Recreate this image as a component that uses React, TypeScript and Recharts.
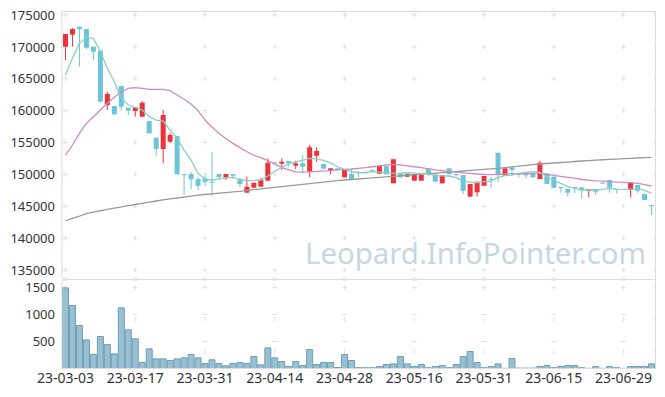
import React from "react";
import {
  ComposedChart,
  Bar,
  Line,
  XAxis,
  YAxis,
  CartesianGrid,
} from "recharts";

// trading days, 23-03-03 .. 23-07-05
const dates = [
  "23-03-03", "23-03-06", "23-03-07", "23-03-08", "23-03-09", "23-03-10", "23-03-13", "23-03-14", "23-03-15", "23-03-16",
  "23-03-17", "23-03-20", "23-03-21", "23-03-22", "23-03-23", "23-03-24", "23-03-27", "23-03-28", "23-03-29", "23-03-30",
  "23-03-31", "23-04-03", "23-04-04", "23-04-05", "23-04-06", "23-04-07", "23-04-10", "23-04-11", "23-04-12", "23-04-13",
  "23-04-14", "23-04-17", "23-04-18", "23-04-19", "23-04-20", "23-04-21", "23-04-24", "23-04-25", "23-04-26", "23-04-27",
  "23-04-28", "23-05-02", "23-05-03", "23-05-04", "23-05-08", "23-05-09", "23-05-10", "23-05-11", "23-05-12", "23-05-15",
  "23-05-16", "23-05-17", "23-05-18", "23-05-19", "23-05-22", "23-05-23", "23-05-24", "23-05-25", "23-05-26", "23-05-30",
  "23-05-31", "23-06-01", "23-06-02", "23-06-05", "23-06-07", "23-06-08", "23-06-09", "23-06-12", "23-06-13", "23-06-14",
  "23-06-15", "23-06-16", "23-06-19", "23-06-20", "23-06-21", "23-06-22", "23-06-23", "23-06-26", "23-06-27", "23-06-28",
  "23-06-29", "23-06-30", "23-07-03", "23-07-04", "23-07-05",
];

const opens = [
  170030, 171910, 173160, 172800, 170030, 169400, 160880, 160730, 163860, 160460,
  159940, 159050, 158370, 155750, 153980, 155130, 156020, 150050, 150060, 149270,
  149390, 148860, 150060, 149480, 150060, 149120, 147130, 147910, 148070, 149010,
  151900, 151680, 152100, 151370, 151740, 150420, 152930, 151630, 150580, 150950,
  149540, 150060, 150420, 150330, 150700, 150110, 151320, 148600, 150170, 149640,
  149010, 149010, 150950, 150010, 148600, 150950, 150060, 149900, 146500, 147190,
  148220, 149270, 153400, 149790, 151110, 150170, 150010, 150060, 149270, 150170,
  149640, 148020, 147700, 148020, 147970, 147390, 147650, 148700, 149120, 147710,
  147710, 147550, 148330, 146920, 145200,
];
const highs = [
  172020, 172960, 173160, 172800, 170030, 169400, 162970, 160730, 163860, 160460,
  160520, 161510, 158370, 155750, 160100, 156530, 156020, 150050, 150370, 149640,
  149760, 153510, 150060, 150060, 150060, 149430, 149640, 148700, 149430, 152520,
  151900, 152520, 152100, 152150, 153040, 154610, 154250, 151630, 150950, 150950,
  150840, 150800, 150420, 150330, 150700, 151480, 151320, 152450, 150170, 150060,
  150060, 149950, 150950, 150010, 149900, 150950, 150060, 149900, 148490, 148860,
  149750, 149640, 153400, 150950, 151110, 150170, 150010, 150060, 152100, 150170,
  149640, 148020, 147700, 148020, 147970, 147710, 147650, 148700, 149120, 147710,
  147710, 148700, 148330, 146920, 145200,
];
const lows = [
  167940, 170030, 166890, 169650, 167940, 161400, 160100, 159400, 159990, 159310,
  159050, 159050, 156440, 152930, 151740, 154920, 150010, 146770, 147710, 147550,
  148180, 146610, 149120, 149120, 149320, 148020, 147130, 147910, 148070, 149010,
  151740, 150680, 151210, 150790, 150170, 149540, 151990, 150890, 150060, 150690,
  149540, 149280, 149540, 150310, 150690, 150110, 150010, 148600, 149540, 149640,
  149010, 149010, 149640, 148860, 148600, 150010, 149700, 146920, 146500, 146500,
  148220, 147810, 148860, 149790, 150170, 149540, 149380, 149540, 149270, 148490,
  147910, 147130, 146500, 147030, 146250, 146400, 146770, 148540, 147130, 147030,
  147550, 146400, 147130, 145980, 143630,
];
const closes = [
  172020, 172800, 172760, 169870, 169240, 161400, 162610, 159420, 160620, 159990,
  160520, 161240, 156440, 153980, 159310, 156180, 150010, 149900, 149230, 148220,
  148800, 148700, 149590, 150060, 149800, 148490, 148070, 148700, 149120, 151830,
  151800, 151990, 151740, 151740, 151210, 154250, 153670, 150890, 150950, 150690,
  150840, 149280, 150260, 150310, 150690, 151320, 150010, 152370, 149540, 150060,
  150060, 149950, 150170, 148860, 149900, 150010, 149900, 147440, 148490, 148860,
  149750, 149120, 149900, 150950, 150690, 150010, 149850, 149540, 151830, 148490,
  147910, 147860, 147130, 147860, 147550, 147710, 147280, 148540, 147910, 147550,
  147550, 148700, 147440, 145980, 145040,
];

const ma5 = [
  165590, 168210, 170560, 171500, 171340, 169240, 166640, 164540, 161930, 160880,
  160520, 160100, 159050, 158530, 158370, 156960, 155650, 153820, 152250, 150170,
  149230, 149120, 149300, 149450, 149540, 149200, 149010, 149050, 149120, 149750,
  150500, 151100, 151700, 151950, 152200, 152500, 152450, 152200, 151800, 151200,
  150800, 150450, 150260, 150300, 150420, 150350, 150250, 150170, 150200, 150260,
  150200, 150170, 150050, 149800, 149780, 149750, 149500, 148960, 148800, 148700,
  148860, 148960, 149540, 149800, 149900, 150150, 150320, 150420, 150300, 149640,
  149000, 148600, 148070, 147800, 147550, 147550, 147550, 147650, 147810, 147700,
  147650, 147700, 147810, 147500, 147030,
];
const ma20 = [
  153040, 154610, 156440, 158010, 159050, 160100, 161150, 162090, 162970, 163500,
  163600, 163500, 163340, 163340, 163340, 163130, 162450, 161780, 161040, 159990,
  158530, 157400, 156440, 155600, 154870, 154200, 153560, 153000, 152620, 152150,
  151600, 151100, 150700, 150400, 150350, 150400, 150480, 150560, 150600, 150700,
  150790, 150850, 150950, 151050, 151200, 151350, 151500, 151580, 151500, 151350,
  151200, 151050, 150850, 150700, 150580, 150450, 150350, 150250, 150150, 150060,
  150000, 149970, 150000, 150080, 150100, 150060, 150100, 150150, 150170, 150000,
  149850, 149700, 149550, 149400, 149200, 149100, 149000, 148950, 148880, 148800,
  148750, 148700, 148600, 148400, 148180,
];
const ma120 = [
  142730, 143100, 143450, 143850, 144100, 144300, 144500, 144700, 144900, 145100,
  145280, 145450, 145650, 145830, 146000, 146150, 146300, 146450, 146600, 146750,
  146850, 146950, 147050, 147150, 147250, 147350, 147480, 147600, 147720, 147840,
  147950, 148080, 148200, 148320, 148430, 148550, 148670, 148780, 148900, 149010,
  149120, 149200, 149280, 149370, 149450, 149530, 149620, 149700, 149780, 149870,
  149950, 150030, 150120, 150200, 150280, 150370, 150450, 150530, 150620, 150700,
  150790, 150870, 150950, 151060, 151180, 151290, 151410, 151520, 151630, 151710,
  151790, 151870, 151940, 152020, 152100, 152170, 152250, 152300, 152360, 152410,
  152470, 152520, 152570, 152630, 152680,
];

const volumes = [
  1494, 1167, 796, 531, 259, 593, 444, 272, 1124, 716,
  550, 111, 364, 179, 179, 148, 179, 198, 259, 198,
  93, 161, 93, 49, 93, 111, 93, 222, 68, 383,
  198, 130, 37, 130, 56, 352, 74, 111, 111, 19,
  259, 148, 15, 15, 15, 37, 74, 86, 222, 86,
  37, 74, 15, 37, 56, 15, 74, 222, 315, 111,
  15, 37, 86, 3, 185, 8, 8, 8, 37, 56,
  15, 37, 56, 56, 15, 3, 37, 3, 37, 15,
  3, 37, 37, 37, 86,
];

const priceTicks = [135000, 140000, 145000, 150000, 155000, 160000, 165000, 170000, 175000];
const volumeTicks = [500, 1000, 1500];

const UP = "#ee3338";
const DOWN = "#6cc4da";
const GRID = "#e0e0e0";
const AXIS = "#dcdcdc";

const rows = dates.map((date, i) => ({
  date,
  open: opens[i],
  high: highs[i],
  low: lows[i],
  close: closes[i],
  range: [lows[i], highs[i]],
  ma5: ma5[i],
  ma20: ma20[i],
  ma120: ma120[i],
  volume: volumes[i],
}));

const Candle = (props: any) => {
  const { x, y, width, height, payload } = props;
  const { open, close, high, low } = payload;
  const top = Math.min(y, y + height);
  const h = Math.abs(height);
  const per = high > low ? h / (high - low) : 0;
  const yOf = (v: number) => top + (high - v) * per;
  const color = close >= open ? UP : DOWN;
  const bTop = yOf(Math.max(open, close));
  const bH = Math.max(1, Math.abs(yOf(open) - yOf(close)));
  const cx = x + width / 2;
  return (
    <g>
      <line x1={cx} x2={cx} y1={top} y2={top + h} stroke={color} strokeWidth={1} />
      <rect x={x} y={bTop} width={width} height={bH} fill={color} />
    </g>
  );
};

// little "+" marks at grid intersections
const gridLine = (dash: string, pre: string) => (p: any) => (
  <line
    key={`${pre}-${p.index}`}
    x1={p.x1}
    y1={p.y1}
    x2={p.x2}
    y2={p.y2}
    stroke={GRID}
    strokeWidth={1}
    strokeDasharray={dash}
  />
);

const tickStyle = { fontSize: 13, fill: "#333" };

export default function App() {
  return (
    <div
      style={{
        position: "absolute",
        left: 0,
        top: 0,
        width: 665,
        height: 397,
        background: "#fff",
        fontFamily: '"Noto Sans", sans-serif',
      }}
    >
      <div
        style={{
          position: "absolute",
          left: 305,
          top: 233,
          fontSize: 29.4,
          color: "#c6d7e2",
          whiteSpace: "nowrap",
        }}
      >
        Leopard.InfoPointer.com
      </div>

      <div style={{ position: "absolute", left: 0, top: 0 }}>
        <ComposedChart
          width={665}
          height={280}
          data={rows}
          margin={{ top: 11, right: 10, left: 0, bottom: 2 }}
          barCategoryGap={1}
        >
          <CartesianGrid
            horizontal={gridLine("0 0.99 5 63.77", "h")}
            vertical={gridLine("0 1.5 5 25.375", "v")}
          />
          <XAxis dataKey="date" hide interval={9} />
          <YAxis
            width={62}
            domain={[133750, 175630]}
            ticks={priceTicks}
            tickLine={false}
            tickSize={5}
            tickMargin={2}
            axisLine={{ stroke: AXIS }}
            tick={tickStyle}
            interval={0}
          />
          <Bar dataKey="range" shape={Candle} isAnimationActive={false} />
          <Line type="linear" dataKey="ma120" stroke="#9a9a9a" strokeWidth={1.3} dot={false} isAnimationActive={false} />
          <Line type="linear" dataKey="ma20" stroke="#cc8ac4" strokeWidth={1.3} dot={false} isAnimationActive={false} />
          <Line type="linear" dataKey="ma5" stroke="#88d0c4" strokeWidth={1.3} dot={false} isAnimationActive={false} />
        </ComposedChart>
      </div>

      <div style={{ position: "absolute", left: 0, top: 270 }}>
        <ComposedChart
          width={665}
          height={127}
          data={rows}
          margin={{ top: 10, right: 10, left: 0, bottom: 0 }}
          barCategoryGap={0.5}
        >
          <CartesianGrid
            horizontal={gridLine("0 0.99 5 63.77", "h")}
            vertical={gridLine("0 5 5 22", "v")}
          />
          <XAxis
            dataKey="date"
            interval={9}
            height={28.5}
            tickLine={false}
            tickSize={2}
            tickMargin={2.5}
            axisLine={{ stroke: AXIS }}
            tick={{ fontSize: 14, fill: "#333" }}
          />
          <YAxis
            width={62}
            domain={[0, 1640]}
            ticks={volumeTicks}
            tickLine={false}
            tickSize={5}
            tickMargin={2}
            axisLine={{ stroke: AXIS }}
            tick={tickStyle}
            interval={0}
          />
          <Bar dataKey="volume" fill="#98c0d0" stroke="#6d9fb9" strokeWidth={1} isAnimationActive={false} />
        </ComposedChart>
      </div>

      {/* frame: top, right and the separator between price and volume */}
      <div style={{ position: "absolute", left: 62, top: 11, width: 593, height: 357, borderTop: `1px solid ${AXIS}`, borderRight: `1px solid ${AXIS}`, pointerEvents: "none" }} />
      <div style={{ position: "absolute", left: 62, top: 279, width: 593, height: 0, borderTop: `1px solid ${AXIS}` }} />
    </div>
  );
}
